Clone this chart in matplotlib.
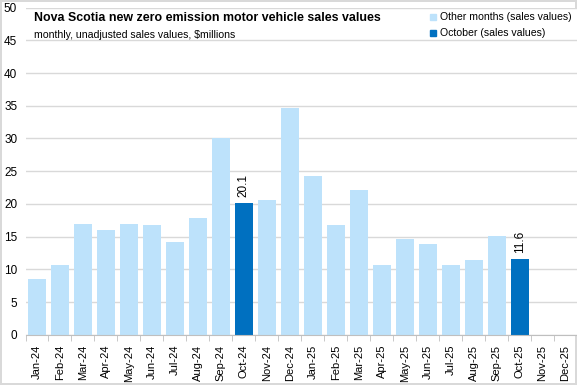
import numpy as np
import matplotlib
matplotlib.use('Agg')
from matplotlib import pyplot as plt
from matplotlib.patches import Rectangle

plt.rcParams['font.family'] = ['Liberation Sans', 'DejaVu Sans']

months = ['Jan-24', 'Feb-24', 'Mar-24', 'Apr-24', 'May-24', 'Jun-24', 'Jul-24', 'Aug-24',
          'Sep-24', 'Oct-24', 'Nov-24', 'Dec-24', 'Jan-25', 'Feb-25', 'Mar-25', 'Apr-25',
          'May-25', 'Jun-25', 'Jul-25', 'Aug-25', 'Sep-25', 'Oct-25', 'Nov-25', 'Dec-25']
sales = [8.5, 10.7, 16.9, 16.0, 16.9, 16.8, 14.2, 17.9,
         30.0, 20.1, 20.6, 34.7, 24.3, 16.8, 22.1, 10.7,
         14.7, 13.9, 10.7, 11.4, 15.1, 11.6, np.nan, np.nan]
october = ['Oct-24', 'Oct-25']

light = '#BDE2FB'
dark = '#0070C0'

fig = plt.figure(figsize=(5.77, 3.85), dpi=100)
fig.patch.set_edgecolor('#D9D9D9')
fig.patch.set_linewidth(1.5)
ax = fig.add_axes([0.0442, 0.1299, 0.9558, 0.8506])

x = np.arange(len(months))
colors = [dark if m in october else light for m in months]
vals = np.nan_to_num(np.array(sales, dtype=float), nan=0.0)
ax.bar(x, vals, width=0.78, color=colors, zorder=2)

for i, m in enumerate(months):
    if m in october:
        ax.text(x[i], vals[i] + 0.9, '{:.1f}'.format(vals[i]), rotation=90,
                ha='center', va='bottom', fontsize=8.5)

ax.set_xlim(-0.5, len(months) - 0.5)
ax.set_ylim(0, 50)
ax.set_yticks(np.arange(0, 51, 5))
ax.yaxis.grid(True, color='#D9D9D9', linewidth=1, zorder=0)
ax.set_axisbelow(True)
for s in ['top', 'right', 'left']:
    ax.spines[s].set_visible(False)
ax.spines['bottom'].set_color('#BFBFBF')
ax.set_xticks(x)
ax.set_xticklabels(months, rotation=90, fontsize=8)
ax.set_xticks(np.arange(-0.5, len(months), 1), minor=True)
ax.tick_params(axis='x', which='major', length=0, pad=7)
ax.tick_params(axis='x', which='minor', length=4, color='#BFBFBF')
ax.tick_params(axis='y', length=0, labelsize=8.5, pad=6)

fig.text(34 / 577, 1 - 18 / 385, 'Nova Scotia new zero emission motor vehicle sales values',
         fontsize=8.9, fontweight='bold', va='center', ha='left')
fig.text(34 / 577, 1 - 35 / 385, 'monthly, unadjusted sales values, $millions',
         fontsize=7.6, va='center', ha='left')

# legend
for yy, c, lab in [(17, light, 'Other months (sales values)'), (33, dark, 'October (sales values)')]:
    fig.patches.append(Rectangle((430 / 577, 1 - (yy + 3) / 385), 6 / 577, 6 / 385,
                                 transform=fig.transFigure, color=c))
    fig.text(440 / 577, 1 - yy / 385, lab, fontsize=7.6, va='center', ha='left')

plt.savefig('out.png', dpi=100)
